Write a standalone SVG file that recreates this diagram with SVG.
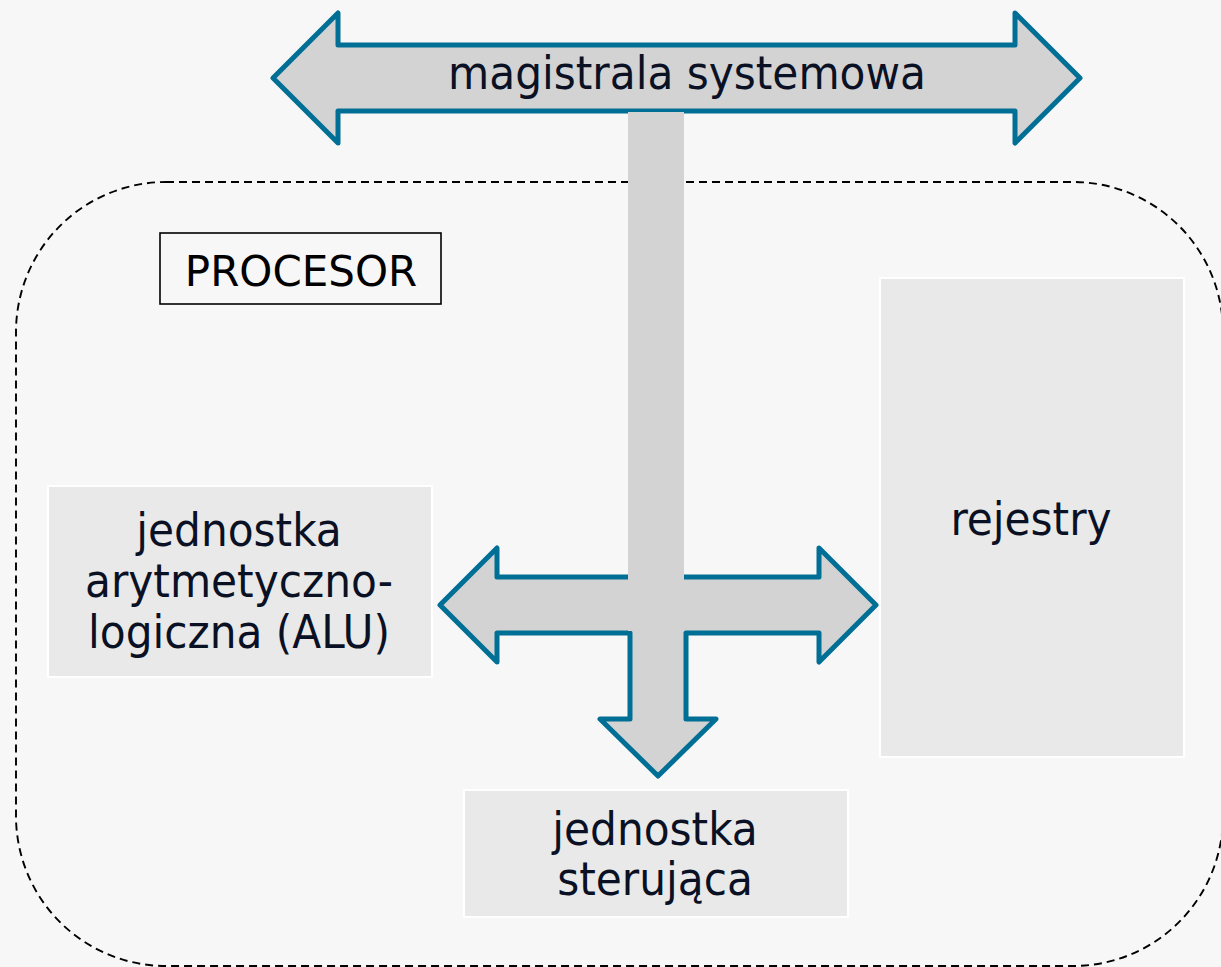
<svg xmlns="http://www.w3.org/2000/svg" width="1221" height="967" viewBox="0 0 1221 967">
  <style>
    .bg { fill: #f7f7f7; }
    .frame { fill: none; stroke: #000; stroke-width: 1.9; stroke-dasharray: 8 5; }
    .bus { fill: #d3d3d3; stroke: #006f96; stroke-width: 5; stroke-linejoin: round; }
    .shaft { fill: #d3d3d3; }
    .unit { fill: #e9e9e9; stroke: #ffffff; stroke-width: 2; }
    .label { font-family: "DejaVu Sans Condensed", "DejaVu Sans", sans-serif; font-stretch: condensed; font-size: 47px; fill: #0b1124; text-anchor: middle; }
    .title-box { fill: #f7f7f7; stroke: #000; stroke-width: 1.6; }
    .title { font-family: "DejaVu Sans", sans-serif; font-size: 42px; fill: #000; text-anchor: middle; }
  </style>

  <rect class="bg" x="0" y="0" width="1221" height="967"/>

  <!-- processor boundary -->
  <g id="procesor">
    <rect class="frame" x="16" y="182" width="1207" height="784" rx="150" ry="150"/>
    <rect class="title-box" x="160" y="233" width="281" height="71"/>
    <text class="title" x="301" y="286">PROCESOR</text>
  </g>

  <!-- buses -->
  <g id="connectors">
    <polygon id="system-bus" class="bus" points="273,78 338,13 338,45 1015,45 1015,13 1080,78 1015,143 1015,111 338,111 338,143"/>
    <polygon id="internal-bus" class="bus" points="440,605 497,548 497,577 819,577 819,548 876,605 819,662 819,633 686,633 686,719 716,719 658,776 600,719 630,719 630,633 497,633 497,662"/>
    <rect id="bus-link" class="shaft" x="628" y="112" width="56" height="519"/>
    <text class="label" x="687" y="89">magistrala systemowa</text>
  </g>

  <g id="alu">
    <rect class="unit" x="48" y="486" width="384" height="191"/>
    <text class="label"><tspan x="239" y="546">jednostka</tspan><tspan x="239" y="597">arytmetyczno-</tspan><tspan x="239" y="648">logiczna (ALU)</tspan></text>
  </g>

  <g id="rejestry">
    <rect class="unit" x="880" y="278" width="304" height="479"/>
    <text class="label" x="1031" y="535">rejestry</text>
  </g>

  <g id="jednostka-sterujaca">
    <rect class="unit" x="464" y="790" width="384" height="127"/>
    <text class="label"><tspan x="655" y="845">jednostka</tspan><tspan x="655" y="895">sterująca</tspan></text>
  </g>
</svg>
